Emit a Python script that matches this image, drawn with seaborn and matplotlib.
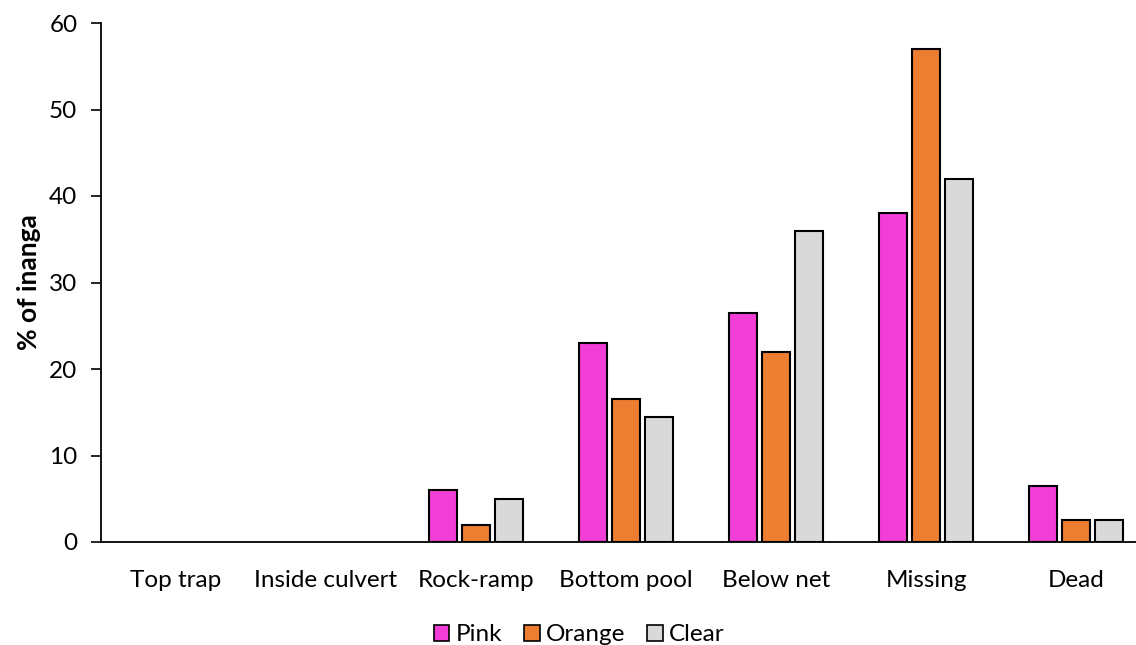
import matplotlib
matplotlib.use("Agg")
import matplotlib.pyplot as plt
import seaborn as sns
import pandas as pd

categories = ["Top trap", "Inside culvert", "Rock-ramp", "Bottom pool", "Below net", "Missing", "Dead"]
series = ["Pink", "Orange", "Clear"]
pink = [0, 0, 6, 23, 26.5, 38, 6.5]
orange = [0, 0, 2, 16.5, 22, 57, 2.5]
clear = [0, 0, 5, 14.5, 36, 42, 2.5]
colors = ["#F23ED6", "#ED7D31", "#D9D9D9"]

rows = []
for name, vals in zip(series, [pink, orange, clear]):
    for c, v in zip(categories, vals):
        rows.append({"Location": c, "Tag": name, "Value": v})
df = pd.DataFrame(rows)

sns.set_style("white")
plt.rcParams['font.family'] = ['Lato', 'DejaVu Sans']
plt.rcParams['text.color'] = 'black'
plt.rcParams['xtick.color'] = 'black'
plt.rcParams['ytick.color'] = 'black'
plt.rcParams['axes.labelcolor'] = 'black'

fig = plt.figure(figsize=(11.36, 6.45), dpi=100)
ax = fig.add_axes([101/1136, 103/645, (1136-101)/1136, (542-23)/645])

sns.barplot(data=df, x="Location", y="Value", hue="Tag", order=categories,
            hue_order=series, palette=colors, saturation=1, width=0.66, gap=0.18,
            edgecolor="black", linewidth=1.5, ax=ax)

for p in ax.patches:
    if p.get_height() == 0:
        p.set_linewidth(0)

ax.set_ylim(0, 60)
ax.set_yticks(range(0, 61, 10))
ax.set_xlim(-0.5, 6.4)
ax.set_xlabel("")
ax.set_ylabel("% of inanga", fontsize=19, fontweight="bold", labelpad=6)
ax.tick_params(axis="y", labelsize=17.5, length=7, width=1.2, direction="out", left=True, pad=10)
ax.tick_params(axis="x", labelsize=17.5, length=0, pad=20)
sns.despine(ax=ax, top=True, right=True)
for s in ["left", "bottom"]:
    ax.spines[s].set_color("black")
    ax.spines[s].set_linewidth(1.3)

leg = ax.legend(loc="lower center", bbox_to_anchor=(478/1035, -0.232), ncol=3, frameon=False,
                fontsize=17.5, handlelength=0.65, handleheight=0.65, handletextpad=0.25,
                columnspacing=0.9, borderpad=0.2)
for h in leg.legend_handles:
    h.set_edgecolor("black")
    h.set_linewidth(1.2)

fig.savefig("out.png", dpi=100)
